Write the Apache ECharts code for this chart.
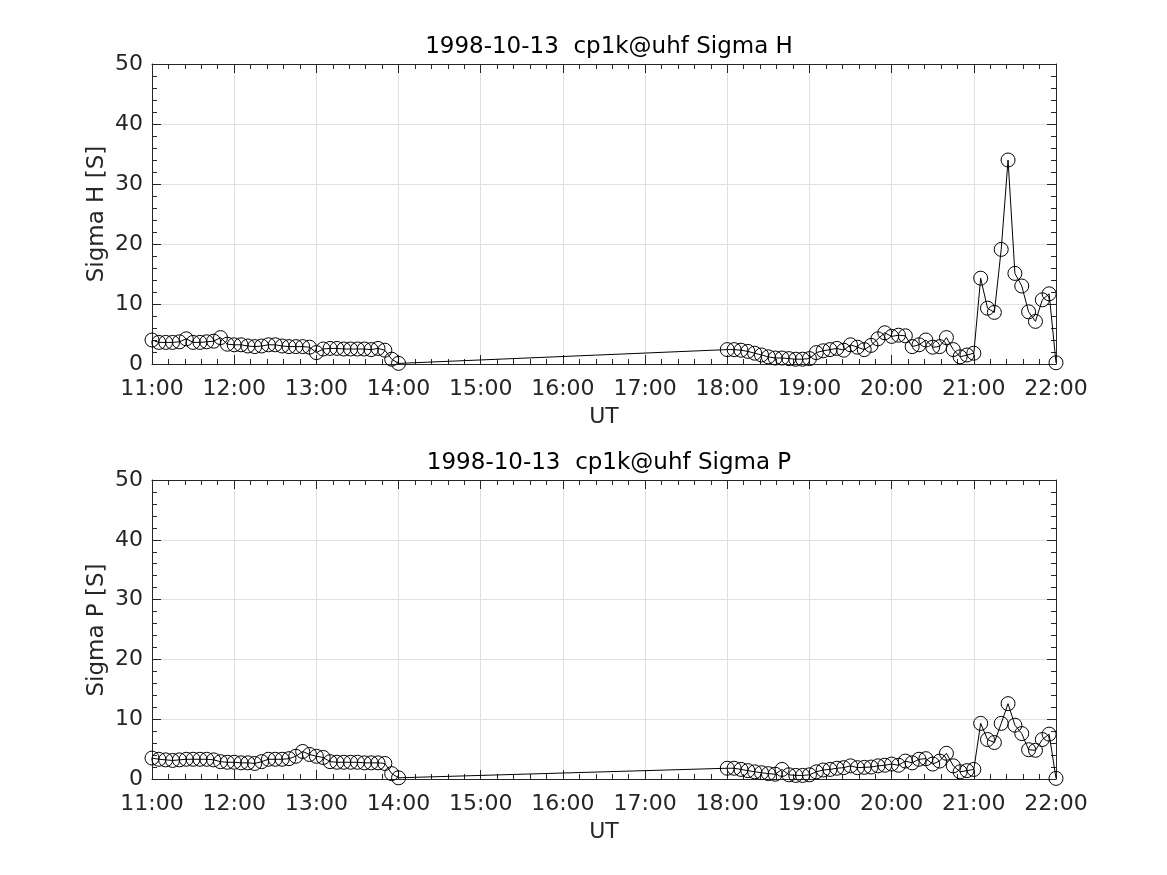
<!DOCTYPE html>
<html>
<head>
<meta charset="utf-8">
<script src="https://cdn.jsdelivr.net/npm/echarts@6/dist/echarts.min.js"></script>
<style>html,body{margin:0;padding:0;background:#fff}#c{width:1167px;height:875px}</style>
</head>
<body>
<div id="c"></div>
<script>
const titleH = '1998-10-13  cp1k@uhf Sigma H';
const titleP = '1998-10-13  cp1k@uhf Sigma P';
const xName = 'UT';
const yNameH = 'Sigma H [S]';
const yNameP = 'Sigma P [S]';
const xTicks = ['11:00','12:00','13:00','14:00','15:00','16:00','17:00','18:00','19:00','20:00','21:00','22:00'];

const times = [
 '11:00','11:05','11:10','11:15','11:20','11:25','11:30','11:35','11:40','11:45','11:50','11:55',
 '12:00','12:05','12:10','12:15','12:20','12:25','12:30','12:35','12:40','12:45','12:50','12:55',
 '13:00','13:05','13:10','13:15','13:20','13:25','13:30','13:35','13:40','13:45','13:50','13:55',
 '14:00',
 '18:00','18:05','18:10','18:15','18:20','18:25','18:30','18:35','18:40','18:45','18:50','18:55',
 '19:00','19:05','19:10','19:15','19:20','19:25','19:30','19:35','19:40','19:45','19:50','19:55',
 '20:00','20:05','20:10','20:15','20:20','20:25','20:30','20:35','20:40','20:45','20:50','20:55',
 '21:00','21:05','21:10','21:15','21:20','21:25','21:30','21:35','21:40','21:45','21:50','21:55',
 '22:00'
];

const sigmaH = [
 4.0,3.6,3.6,3.6,3.7,4.2,3.6,3.6,3.7,3.8,4.4,3.3,
 3.2,3.2,3.0,2.9,3.0,3.2,3.2,3.0,2.9,2.9,2.9,2.8,
 1.9,2.5,2.6,2.6,2.5,2.5,2.5,2.5,2.4,2.6,2.3,0.8,
 0.1,
 2.4,2.4,2.3,2.1,1.8,1.5,1.2,1.0,1.0,0.9,0.8,0.8,
 0.9,1.9,2.2,2.4,2.6,2.3,3.2,2.8,2.4,3.1,4.2,5.2,
 4.6,4.8,4.7,2.9,3.2,4.0,2.8,2.9,4.4,2.4,1.2,1.5,
 1.8,14.3,9.3,8.6,19.1,34.0,15.1,13.0,8.7,7.1,10.7,11.7,
 0.2
];

const sigmaP = [
 3.5,3.3,3.2,3.1,3.2,3.3,3.3,3.3,3.3,3.2,2.9,2.8,
 2.8,2.7,2.7,2.6,2.9,3.3,3.3,3.3,3.4,3.8,4.6,4.1,
 3.8,3.6,2.9,2.8,2.8,2.8,2.8,2.7,2.7,2.7,2.6,0.9,
 0.2,
 1.8,1.8,1.6,1.4,1.2,1.05,0.9,0.8,1.6,0.7,0.6,0.6,
 0.7,1.2,1.5,1.6,1.8,1.9,2.2,1.9,1.95,2.0,2.2,2.3,
 2.5,2.3,3.0,2.7,3.3,3.4,2.5,3.0,4.3,2.2,1.2,1.4,
 1.6,9.3,6.6,6.1,9.3,12.6,9.0,7.6,4.9,4.8,6.6,7.5,
 0.1
];

function toHours(s){ const p = s.split(':'); return +p[0] + (+p[1])/60; }
const xs = times.map(toHours);
const dataH = xs.map((x,i)=>[x, sigmaH[i]]);
const dataP = xs.map((x,i)=>[x, sigmaP[i]]);

const FONT = 'DejaVu Sans';
const TXT = '#262626';
const AX = '#262626';
const GRIDC = '#dfdfdf';
const TICKFS = 22;

function fmtX(v){ const h = Math.round(v); return (h<10?'0':'')+h+':00'; }

function xAxisMain(gi){
  return {
    type:'value', gridIndex:gi, min:11, max:22, interval:1, position:'bottom',
    name: xName, nameLocation:'middle', nameGap:42,
    nameTextStyle:{fontFamily:FONT, fontSize:22, color:TXT},
    axisLine:{show:true, onZero:false, lineStyle:{color:AX, width:1}},
    axisTick:{show:true, inside:true, length:9, lineStyle:{color:AX}},
    minorTick:{show:true, splitNumber:5, length:5, lineStyle:{color:AX}},
    axisLabel:{formatter:fmtX, fontFamily:FONT, fontSize:TICKFS, color:TXT, margin:14},
    splitLine:{show:true, lineStyle:{color:GRIDC, width:1}}
  };
}
function xAxisTop(gi){
  return {
    type:'value', gridIndex:gi, min:11, max:22, interval:1, position:'top',
    axisLine:{show:true, onZero:false, lineStyle:{color:AX, width:1}},
    axisTick:{show:true, inside:true, length:9, lineStyle:{color:AX}},
    minorTick:{show:true, splitNumber:5, length:5, lineStyle:{color:AX}},
    axisLabel:{show:false}, splitLine:{show:false}
  };
}
function yAxisMain(gi){
  return {
    type:'value', gridIndex:gi, min:0, max:50, interval:10, position:'left',
    axisLine:{show:true, onZero:false, lineStyle:{color:AX, width:1}},
    axisTick:{show:true, inside:true, length:9, lineStyle:{color:AX}},
    minorTick:{show:true, splitNumber:5, length:5, lineStyle:{color:AX}},
    axisLabel:{fontFamily:FONT, fontSize:TICKFS, color:TXT, margin:9},
    splitLine:{show:true, lineStyle:{color:GRIDC, width:1}}
  };
}
function yAxisRight(gi){
  return {
    type:'value', gridIndex:gi, min:0, max:50, interval:10, position:'right',
    axisLine:{show:true, onZero:false, lineStyle:{color:AX, width:1}},
    axisTick:{show:true, inside:true, length:9, lineStyle:{color:AX}},
    minorTick:{show:true, splitNumber:5, length:5, lineStyle:{color:AX}},
    axisLabel:{show:false}, splitLine:{show:false}
  };
}
function series(xi, yi, data){
  return {
    type:'line', xAxisIndex:xi, yAxisIndex:yi, data:data,
    symbol:'circle', symbolSize:14, showAllSymbol:true,
    lineStyle:{color:'#000', width:1},
    itemStyle:{color:'rgba(0,0,0,0)', borderColor:'#000', borderWidth:1},
    emphasis:{disabled:true},
    animation:false, z:5
  };
}
function yTitle(text, cy){
  return {
    type:'text', x:97, y:cy, rotation:Math.PI/2,
    style:{text:text, fill:TXT, font:'23px "DejaVu Sans"', textAlign:'center', textVerticalAlign:'middle'}
  };
}

const chart = echarts.init(document.getElementById('c'), null, {renderer:'canvas'});
chart.setOption({
  backgroundColor:'#fff',
  animation:false,
  title:[
    {text:titleH, left:604, top:31, textAlign:'center',
     textStyle:{fontFamily:FONT, fontSize:23, fontWeight:'normal', color:'#000'}},
    {text:titleP, left:604, top:447, textAlign:'center',
     textStyle:{fontFamily:FONT, fontSize:23, fontWeight:'normal', color:'#000'}}
  ],
  grid:[
    {left:152, width:904, top:64, height:300},
    {left:152, width:904, top:480, height:299}
  ],
  xAxis:[xAxisMain(0), xAxisTop(0), xAxisMain(1), xAxisTop(1)],
  yAxis:[yAxisMain(0), yAxisRight(0), yAxisMain(1), yAxisRight(1)],
  graphic:[yTitle(yNameH, 214), yTitle(yNameP, 630)],
  series:[series(0,0,dataH), series(2,2,dataP)]
});
</script>
</body>
</html>
